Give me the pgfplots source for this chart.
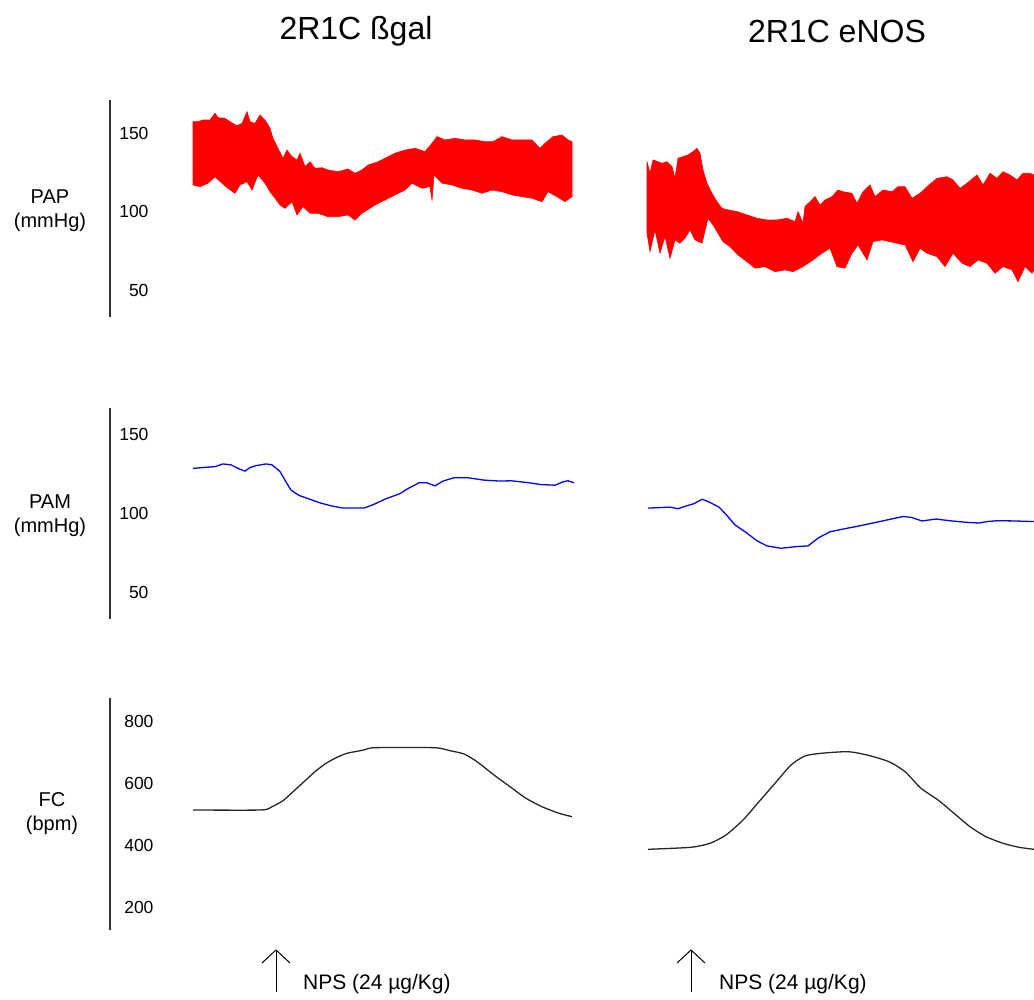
\documentclass[border=0pt]{standalone}
\usepackage{fontspec}
\setmainfont{Liberation Sans}
\usepackage{pgfplots}
\pgfplotsset{compat=1.18}
\begin{document}
\begin{tikzpicture}
\useasboundingbox (0bp,0bp) rectangle (1034bp,1000bp);
\pgfplotsset{trace/.style={scale only axis, width=924bp, xmin=110, xmax=1034,
  axis x line=none, axis y line*=left,
  axis line style={black!80, line width=1.5bp},
  major tick length=0pt, xtick=\empty,
  yticklabel style={font=\fontsize{17.5bp}{20bp}\selectfont, anchor=east, xshift=42bp},
  /pgf/number format/assume math mode=true, anchor=south west}}
% ---------- PAP ----------
\begin{axis}[trace, at={(110bp,683bp)}, height=217bp, ymin=33.5, ymax=170.9, ytick={50,100,150}]
\addplot[draw=red, fill=red, line width=0.6bp, line join=miter] coordinates {(193,157.2)(198,157.2)(203,158.2)(210,158.2)(215,162.5)(218,159.7)(225,159.3)(230,157.2)(237,154.6)(242,156.1)(247,163.5)(250,157.2)(255,156.1)(260,161.4)(265,158.2)(270,153.0)(273,146.6)(278,140.3)(283,134.0)(287,139.2)(292,135.0)(297,132.9)(300,137.2)(305,128.7)(310,131.8)(315,127.7)(322,128.0)(328,126.6)(338,125.5)(348,127.2)(355,124.5)(362,126.6)(368,129.7)(377,131.5)(385,134.0)(395,137.2)(405,139.2)(415,140.3)(425,138.2)(432,143.5)(437,147.7)(445,145.6)(455,146.6)(465,145.6)(475,145.6)(485,144.5)(493,144.5)(502,147.7)(512,145.6)(522,145.6)(532,145.6)(540,140.3)(545,143.5)(553,147.7)(562,148.7)(568,145.6)(572,144.5)
(572,109.7)(565,106.5)(557,109.7)(548,112.8)(542,106.5)(532,108.7)(522,109.7)(512,110.8)(502,112.8)(492,113.9)(482,111.8)(472,113.9)(462,115.0)(452,117.1)(442,118.2)(434,123.4)(432,107.6)(430,116.0)(422,115.0)(412,118.2)(405,113.9)(395,110.8)(385,107.6)(375,104.4)(370,102.3)(362,99.2)(355,94.9)(348,98.1)(338,97.0)(328,97.0)(318,99.2)(310,99.2)(303,103.4)(297,98.1)(292,106.5)(285,102.3)(280,104.4)(275,108.7)(270,112.8)(265,118.2)(258,123.4)(252,113.9)(247,119.2)(240,117.1)(235,111.8)(228,115.0)(222,118.2)(215,122.3)(208,118.2)(200,116.0)(193,117.1)(193,157.2)};
\addplot[draw=red, fill=red, line width=0.6bp, line join=miter] coordinates {(647,131.8)(650,124.5)(653,132.9)(658,131.8)(662,130.8)(667,131.8)(672,128.7)(675,121.3)(678,134.0)(683,135.0)(688,136.1)(693,138.2)(697,140.3)(700,137.2)(703,126.6)(707,118.2)(712,111.8)(717,106.5)(722,102.3)(728,101.3)(737,100.2)(747,98.1)(757,96.0)(767,94.9)(777,94.9)(787,96.0)(795,93.9)(798,100.2)(803,92.8)(805,103.4)(810,106.5)(815,109.7)(820,104.4)(825,107.6)(832,109.7)(838,113.9)(843,112.8)(852,111.8)(857,105.5)(863,112.8)(870,117.1)(875,109.7)(883,113.9)(892,112.8)(898,116.0)(905,116.0)(912,108.7)(920,111.8)(927,116.0)(937,121.3)(947,122.3)(953,120.3)(960,115.0)(967,118.2)(977,123.4)(983,117.1)(990,124.5)(997,121.3)(1003,125.5)(1010,123.4)(1017,120.3)(1023,124.5)(1030,124.5)(1034,123.4)
(1034,63.0)(1032,61.2)(1025,65.4)(1018,55.9)(1012,63.3)(1003,65.4)(995,61.2)(987,67.5)(978,69.6)(970,65.4)(962,67.5)(953,73.9)(945,65.4)(937,71.7)(927,73.9)(920,77.0)(913,68.5)(905,79.1)(897,80.2)(890,81.2)(882,82.3)(873,81.2)(867,69.6)(858,79.1)(852,73.9)(845,64.4)(837,65.4)(830,77.0)(822,73.9)(813,69.6)(803,65.4)(793,62.2)(785,63.3)(775,62.2)(765,65.4)(755,64.4)(747,68.5)(738,72.8)(730,78.0)(723,81.2)(718,86.5)(713,91.8)(708,96.0)(702,80.2)(695,82.3)(690,88.6)(685,83.4)(680,80.2)(675,82.3)(670,70.7)(665,84.4)(660,73.9)(655,88.6)(650,74.9)(647,86.5)(647,131.8)};
\end{axis}
% ---------- PAM ----------
\begin{axis}[trace, at={(110bp,381bp)}, height=211bp, ymin=33.6, ymax=166.4, ytick={50,100,150}]
\addplot[blue, line width=1.3bp] coordinates {(193,128.4)(215,129.5)(223,131.2)(231,130.6)(239,128.1)(245,126.7)(250,128.9)(256,130.1)(266,131.2)(272,130.6)(280,126.4)(286,119.9)(291,114.7)(299,111.4)(310,108.9)(321,106.5)(332,104.7)(343,103.4)(364,103.4)(373,105.5)(386,109.3)(400,112.5)(408,115.7)(419,119.3)(427,119.3)(435,117.4)(443,120.4)(454,122.5)(468,122.5)(484,121.0)(500,120.4)(511,120.6)(527,119.5)(541,118.2)(555,117.8)(563,119.9)(568,120.6)(574,119.3)};
\addplot[blue, line width=1.3bp] coordinates {(648,103.4)(670,104.0)(678,103.0)(686,104.7)(694,106.2)(702,108.9)(708,107.6)(719,104.0)(727,98.7)(735,92.8)(746,88.1)(757,82.8)(767,79.6)(781,78.1)(797,79.2)(808,79.6)(819,84.9)(830,88.5)(843,90.2)(857,91.9)(873,94.0)(889,96.2)(903,98.1)(911,97.6)(922,95.3)(936,96.5)(949,95.5)(965,94.5)(979,94.0)(987,94.9)(998,95.5)(1014,95.3)(1034,94.9)};
\end{axis}
% ---------- FC ----------
\begin{axis}[trace, at={(110bp,70bp)}, height=232bp, ymin=125.8, ymax=874.2, ytick={200,400,600,800},
  yticklabel style={xshift=5bp}]
\addplot[black!85, line width=1.3bp, smooth, tension=0.4] coordinates {(193,512.9)(261,512.9)(272,523.5)(283,542.9)(293,571.9)(304,604.2)(315,636.5)(326,663.5)(337,682.9)(347,695.8)(364,706.5)(375,713.9)(434,713.9)(450,704.2)(464,693.5)(477,668.7)(494,625.8)(510,588.1)(526,550.6)(542,523.5)(559,502.3)(572,491.3)};
\addplot[black!85, line width=1.3bp, smooth, tension=0.4] coordinates {(648,386.1)(691,392.6)(710,405.5)(726,432.3)(743,480.6)(759,539.7)(775,599.0)(791,658.1)(805,687.1)(821,695.8)(848,701.0)(867,690.3)(889,668.7)(905,636.5)(921,582.9)(938,545.2)(954,502.3)(970,459.0)(986,426.8)(1003,405.5)(1019,392.6)(1034,386.1)};
\end{axis}
% ---------- labels ----------
\begin{scope}[every node/.style={font=\fontsize{20bp}{24bp}\selectfont, inner sep=0pt}]
\node at (50bp,803bp) {PAP};
\node at (50bp,778bp) {(mmHg)};
\node at (50bp,498bp) {PAM};
\node at (50bp,473bp) {(mmHg)};
\node at (52bp,200bp) {FC};
\node at (52bp,175bp) {(bpm)};
\end{scope}
\node[font=\fontsize{32bp}{38bp}\selectfont, inner sep=0pt] at (356bp,969bp) {2R1C ßgal};
\node[font=\fontsize{32bp}{38bp}\selectfont, inner sep=0pt] at (837bp,969bp) {2R1C eNOS};
% ---------- NPS arrows ----------
\draw[line width=1bp] (276bp,8bp) -- (276bp,50bp);
\draw[line width=1bp] (262bp,37bp) -- (276bp,50bp) -- (290bp,37bp);
\node[anchor=west, inner sep=0pt, font=\fontsize{21bp}{24bp}\selectfont] at (303bp,16bp) {NPS (24 µg/Kg)};
\draw[line width=1bp] (691bp,8bp) -- (691bp,50bp);
\draw[line width=1bp] (677bp,37bp) -- (691bp,50bp) -- (705bp,37bp);
\node[anchor=west, inner sep=0pt, font=\fontsize{21bp}{24bp}\selectfont] at (719bp,16bp) {NPS (24 µg/Kg)};
\end{tikzpicture}
\end{document}
